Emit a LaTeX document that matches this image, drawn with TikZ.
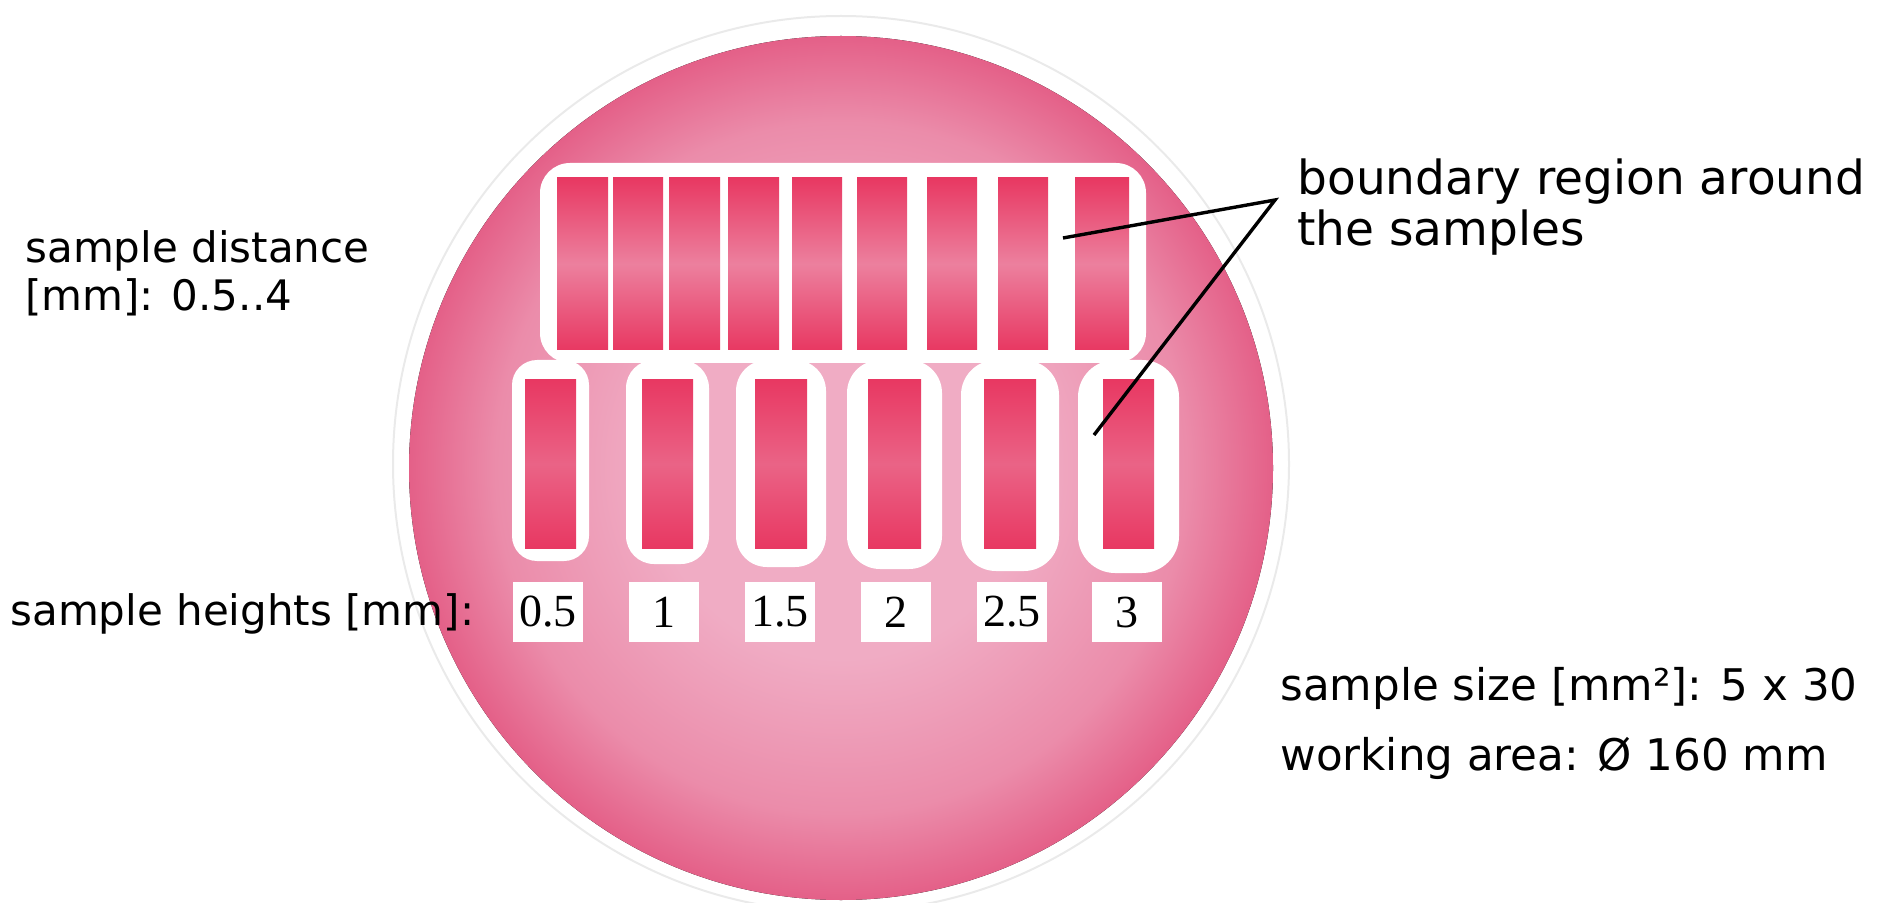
\documentclass[tikz,border=0pt]{standalone}
\usepackage{fontspec}
\setmainfont{DejaVu Sans}
\newfontfamily\numfont{Liberation Serif}
\definecolor{diske}{RGB}{228,96,136}
\definecolor{diskm}{RGB}{235,140,170}
\definecolor{diskc}{RGB}{240,172,196}
\definecolor{sampdark}{RGB}{232,56,98}
\definecolor{samplight}{RGB}{236,128,158}
\definecolor{scanring}{RGB}{234,234,234}
\pgfdeclareradialshading{disk}{\pgfpoint{0bp}{0bp}}{color(0bp)=(diskc); color(11bp)=(diskc); color(20bp)=(diskm); color(25bp)=(diske); color(50bp)=(diske)}

\begin{document}
\begin{tikzpicture}[x=0.5pt, y=-0.5pt,
		note/.style={font=\fontsize{21}{24}\selectfont, anchor=base west, align=left, inner sep=0pt},
		bignote/.style={note, font=\fontsize{23.5}{25.5}\selectfont},
		footnote/.style={note, font=\fontsize{21.8}{24}\selectfont},
		hbox/.style={fill=white, minimum width=35pt, minimum height=30pt, inner sep=0pt,
			font=\numfont\fontsize{23}{24}\selectfont},
		rim/.style={fill=white},
		upsample/.style={top color=sampdark, bottom color=sampdark, middle color=samplight},
		lowsample/.style={top color=sampdark, bottom color=sampdark, middle color=samplight!60!sampdark},
		leader/.style={line width=1.7pt, black}
	]
	\useasboundingbox (0,0) rectangle (1883,903);
	\draw[scanring, line width=1pt] (841,464) circle[radius=224pt];
	\fill[shading=disk] (841,468) circle[radius=216pt];
	% upper row, sample distance 0.5..4
	\fill[rim, rounded corners=15pt] (540,163) rectangle (1146,363);
	\foreach \xa/\xb in {557/608, 613/663, 669/720, 728/779, 792/842, 857/907, 927/977, 998/1048, 1075/1129}
		\fill[upsample] (\xa,178) rectangle (\xb,350);
	% lower row, sample heights
	\foreach \xa/\xb/\bw in {525/576/13, 642/693/16, 755/807/19, 868/921/21, 984/1036/23, 1103/1154/25}{
		\fill[rim, rounded corners={\bw*0.5pt+6pt}] (\xa-\bw,360) rectangle (\xb+\bw,548+\bw);
		\fill[lowsample] (\xa,380) rectangle (\xb,548);
	}
	\foreach \t/\cx [count=\i] in {0.5/548, 1/664, 1.5/780, 2/896, 2.5/1012, 3/1127}
		\node[hbox] (h\i) at (\cx,612) {\t};
	\node[note] (dist) at (25,311) {sample distance\\{}[mm]: 0.5..4};
	\node[note] (heights) at (10,625) {sample heights [mm]:};
	\node[bignote] (bnd) at (1297,246) {boundary region around\\the samples};
	\node[footnote] (size) at (1280,700) {sample size [mm²]: 5 x 30};
	\node[footnote] (area) at (1280,770) {working area: Ø 160 mm};
	\coordinate (apex) at (1275,200);
	\coordinate (gap) at (1063,238);
	\coordinate (rim6) at (1094,435);
	\draw[leader] (gap) -- (apex) -- (rim6);
\end{tikzpicture}
\end{document}
